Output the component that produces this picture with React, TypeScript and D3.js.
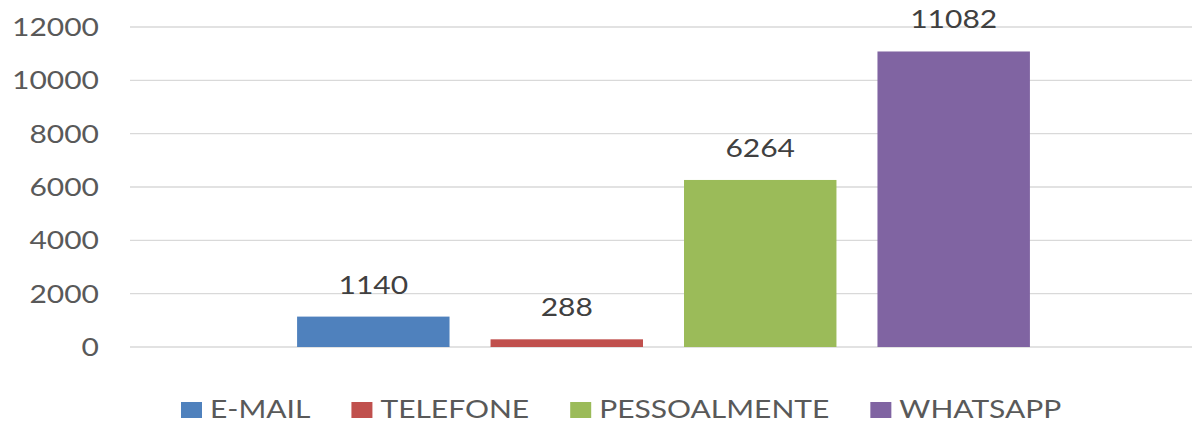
import React, { useEffect, useRef } from 'react';
import * as d3 from 'd3';

const categories = ['E-MAIL', 'TELEFONE', 'PESSOALMENTE', 'WHATSAPP'];
const values = [1140, 288, 6264, 11082];
const colors = ['#4f81bd', '#c0504d', '#9bbb59', '#8064a2'];
const yTicks = [0, 2000, 4000, 6000, 8000, 10000, 12000];

// the source image is stretched sideways, so draw narrower and stretch the svg
const W = 1192;
const H = 426;
const SX = 1.2;
const IW = W / SX;

const App = () => {
  const ref = useRef<SVGSVGElement | null>(null);

  useEffect(() => {
    const svg = d3.select(ref.current);
    svg.selectAll('*').remove();

    const font = 'Lato, "Open Sans", sans-serif';

    const y = d3.scaleLinear().domain([0, 12000]).range([347, 27]);

    // one group holding the four series
    const x0 = d3.scaleBand().domain(['total']).range([130 / SX, 1197 / SX]).paddingInner(0).paddingOuter(0.228);
    const x1 = d3.scaleBand().domain(categories).range([0, x0.bandwidth()]).paddingInner(0.212).paddingOuter(0);

    // gridlines
    svg.append('g')
      .selectAll('line')
      .data(yTicks)
      .join('line')
      .attr('x1', 130 / SX)
      .attr('x2', IW)
      .attr('y1', d => y(d))
      .attr('y2', d => y(d))
      .attr('stroke', '#d9d9d9')
      .attr('stroke-width', 1.4);

    // y tick labels
    svg.append('g')
      .selectAll('text')
      .data(yTicks)
      .join('text')
      .attr('x', 99 / SX)
      .attr('y', d => y(d) + 9)
      .attr('text-anchor', 'end')
      .attr('font-family', font)
      .attr('font-size', 25)
      .attr('fill', '#595959')
      .text(d => d);

    const g = svg.append('g').attr('transform', `translate(${x0('total')},0)`);

    g.selectAll('rect')
      .data(values)
      .join('rect')
      .attr('x', (d, i) => x1(categories[i]) as number)
      .attr('width', x1.bandwidth())
      .attr('y', d => y(d))
      .attr('height', d => y(0) - y(d))
      .attr('fill', (d, i) => colors[i]);

    g.selectAll('text')
      .data(values)
      .join('text')
      .attr('x', (d, i) => (x1(categories[i]) as number) + x1.bandwidth() / 2)
      .attr('y', d => y(d) - 23)
      .attr('text-anchor', 'middle')
      .attr('font-family', font)
      .attr('font-size', 25)
      .attr('fill', '#404040')
      .text(d => d);

    // legend
    const legend = svg.append('g');
    let lx = 181 / SX;
    categories.forEach((c, i) => {
      legend.append('rect')
        .attr('x', lx)
        .attr('y', 402)
        .attr('width', 21 / SX)
        .attr('height', 16)
        .attr('fill', colors[i]);
      const t = legend.append('text')
        .attr('x', lx + 29 / SX)
        .attr('y', 418)
        .attr('font-family', font)
        .attr('font-size', 25)
        .attr('fill', '#595959')
        .text(c);
      const tw = (t.node() as SVGTextElement).getComputedTextLength();
      lx = lx + 29 / SX + tw + 41 / SX;
    });
  }, []);

  return (
    <svg
      ref={ref}
      width={W}
      height={H}
      viewBox={`0 0 ${IW} ${H}`}
      preserveAspectRatio="none"
      style={{ position: 'absolute', left: 0, top: 0, background: '#fff' }}
    />
  );
};

export default App;
